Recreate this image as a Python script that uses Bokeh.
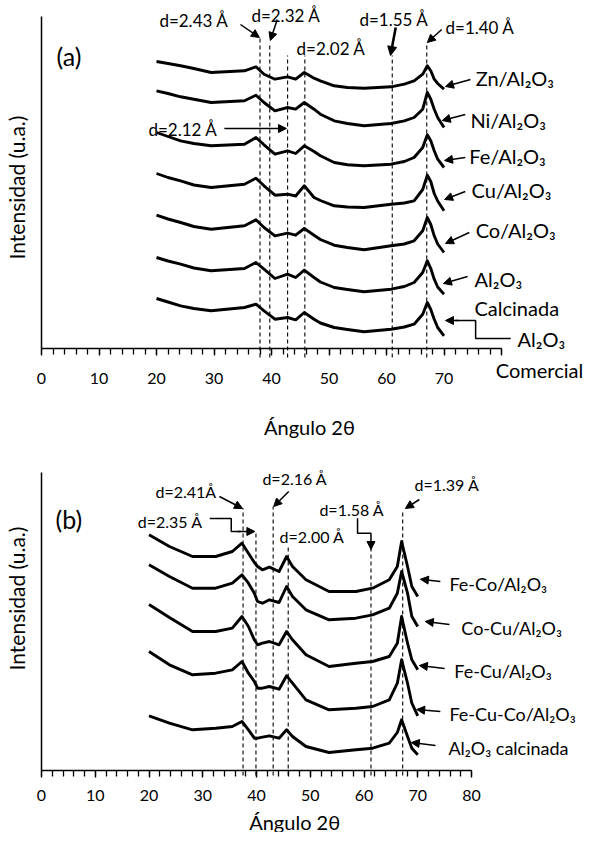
from math import pi
from bokeh.plotting import figure
from bokeh.layouts import column
from bokeh.models import Range1d, FixedTicker, Label, Arrow, NormalHead
from bokeh.embed import file_html
from bokeh.resources import INLINE

FONT = "Lato"

# ---------------- data: panel (a) ----------------
angle_a = [20, 22, 24.2, 26.5, 29.5, 35.3, 37.3, 38.7, 40.6, 42.8, 44.2, 45.7, 47.4,
           48.5, 50.9, 53.2, 56.1, 60.8, 63.1, 64.8, 66.3, 67.1, 67.7, 68.3, 68.9, 70]
zn_al2o3 = [287, 285, 282.7, 280, 276, 277.7, 281.7, 274.3, 269.3, 271.7, 269.3, 276,
            270.3, 267.7, 262.7, 261, 260.3, 261.7, 264.3, 267.7, 274.3, 282.7, 277.7,
            269.3, 265, 259.3]
ni_al2o3 = [257.7, 255, 251.7, 249.3, 246, 247.7, 253.3, 246, 237.7, 241, 239.3, 246,
            239.3, 234.3, 227.7, 225, 222.7, 225, 227.7, 231, 239.3, 256, 249.3, 239.3,
            231, 221]
fe_al2o3 = [216, 212, 207.7, 205, 202.7, 204.3, 211, 203.7, 194.3, 197.7, 195, 202.7,
            197, 192.7, 186, 183.7, 182.7, 184.3, 187, 191, 201, 213.7, 207.7, 197.7,
            189.3, 181]
cu_al2o3 = [175, 171, 167.7, 163.5, 161, 164.3, 170.3, 162.7, 153.3, 154.3, 152.5, 162.7,
            151, 148, 142.7, 141.5, 141, 144.3, 145.5, 147.7, 159, 173.3, 167, 155,
            147.5, 137.7]
co_al2o3 = [133.3, 129.5, 126, 122, 119.3, 122.7, 128.7, 121, 112.7, 115.3, 113.3, 120,
            113.3, 109, 103.3, 101, 98.7, 102.7, 104.5, 107.7, 117.7, 131, 124, 112.7,
            104.5, 96]
al2o3_calc_a = [91, 87.5, 84.3, 80.5, 77.7, 80, 86, 79.3, 70, 74.3, 71, 78.3, 71, 66.5,
                61, 59, 56.7, 59.3, 62, 66, 76, 87.7, 80, 69.3, 61.5, 54.3]
al2o3_com = [50, 46.5, 42.7, 40, 37.7, 41, 44.3, 37.7, 29.3, 31, 28.7, 36, 29.3, 25.5,
             21, 19, 16.7, 19.3, 21.5, 24.3, 34.3, 46, 39, 29.3, 21, 12.7]
series_a = [zn_al2o3, ni_al2o3, fe_al2o3, cu_al2o3, co_al2o3, al2o3_calc_a, al2o3_com]
ref_lines_a = [38.0, 39.7, 42.8, 45.8, 61.0, 67.0]
ref_tops_a = [313, 306, 293, 293, 293, 306]

# ---------------- data: panel (b) ----------------
angle_b = [20, 23.8, 28.1, 32.4, 35.5, 37.3, 38.5, 39.6, 40.2, 41.1, 42.4, 44.2,
           45.6, 46.7, 49.2, 53.5, 58.5, 61.6, 64.7, 66.2, 67.0, 68.1, 68.9, 70]
feco = [235.7, 224, 214, 214, 219, 227.3, 217.3, 208, 204, 200.7, 203.3, 199,
        214, 204, 190.7, 179, 179, 182.3, 190.7, 204, 229, 204, 184, 174]
cocu = [205.7, 194, 182.3, 182.3, 187.3, 195.7, 187.3, 177.3, 169, 167.3, 170.7, 168,
        184, 174, 160.7, 150.7, 152.3, 155.7, 162.3, 177.3, 199, 177.3, 154, 144]
fecu = [166, 153, 139, 139, 142.3, 154, 144, 130.7, 125.7, 127.3, 129, 125.7,
        139, 130.7, 115.7, 104, 107.3, 109, 114, 127.3, 154, 127.3, 110.7, 100.7]
fecuco = [119, 105.7, 95.7, 97.3, 100.7, 109, 97.3, 89, 82.3, 82.3, 84, 81.3,
          94.7, 87.3, 70.7, 60.7, 62.3, 64, 70.7, 87.3, 110.7, 87.3, 67.3, 54.7]
al2o3_calc_b = [54.7, 47.3, 40.7, 42.3, 44, 49, 40.7, 32.3, 32.3, 33.3, 34.7, 32.3,
                40.7, 34, 24, 18, 20.7, 22.3, 27.3, 38, 50.7, 34, 22.3, 15.7]
series_b = [feco, cocu, fecu, fecuco, al2o3_calc_b]
ref_lines_b = [37.5, 39.9, 43.1, 45.9, 61.3, 67.2]
ref_tops_b = [262.3, 237.3, 264, 225.7, 222.3, 260.7]

tick_values = [0, 10, 20, 30, 40, 50, 60, 70, 80]


def text(p, x, y, t, size, align="left", angle=0.0):
    p.add_layout(Label(x=x, y=y, text=t, text_font=FONT, text_font_size=size,
                       text_align=align, text_baseline="middle", angle=angle,
                       text_color="black"))


def arrow(p, x0, y0, x1, y1, w=1.5, size=8):
    p.add_layout(Arrow(end=NormalHead(size=size, fill_color="black", line_color="black",
                                      line_width=1),
                       x_start=x0, y_start=y0, x_end=x1, y_end=y1,
                       line_width=w, line_color="black"))


def make_fig(height, px_per_unit, y_lo, y_hi, axis_top, standoff, hide80):
    p = figure(width=584, height=height, output_backend="svg", toolbar_location=None,
               x_range=Range1d(-41 / px_per_unit, 543 / px_per_unit),
               y_range=Range1d(y_lo, y_hi),
               min_border=0, min_border_left=0, min_border_right=0, min_border_top=0,
               min_border_bottom=0)
    p.outline_line_color = None
    p.grid.visible = False
    p.background_fill_color = "white"
    xa = p.xaxis[0]
    xa.fixed_location = 0
    xa.ticker = FixedTicker(ticks=tick_values, minor_ticks=list(range(0, 81, 2)))
    xa.bounds = (0, 80)
    xa.axis_line_width = 1.5
    xa.axis_line_color = "black"
    xa.major_tick_line_width = 1.3
    xa.minor_tick_line_width = 1.3
    xa.major_tick_line_color = "black"
    xa.minor_tick_line_color = "black"
    xa.major_tick_in = 0
    xa.minor_tick_in = 0
    xa.major_tick_out = 7
    xa.minor_tick_out = 6
    xa.major_label_standoff = standoff
    xa.major_label_text_font = FONT
    xa.major_label_text_font_size = "16px"
    xa.major_label_text_color = "black"
    if hide80:
        xa.major_label_overrides = {80: ""}
    ya = p.yaxis[0]
    ya.fixed_location = 0
    ya.ticker = FixedTicker(ticks=[])
    ya.major_tick_out = 0
    ya.minor_tick_out = 0
    ya.major_label_text_font_size = "0px"
    ya.bounds = (0, axis_top)
    ya.axis_line_width = 1.5
    ya.axis_line_color = "black"
    return p


# ---------------- panel (a) ----------------
pa = make_fig(446, 5.75, -98, 348, 332, 17, True)
for s in series_a:
    pa.line(angle_a, s, line_width=2.9, line_color="black", line_join="round")
pa.segment(x0=ref_lines_a, y0=[-9] * len(ref_lines_a), x1=ref_lines_a, y1=ref_tops_a,
           line_dash="4 3", line_width=1.1, line_color="black")

text(pa, 2.6, 293, "(a)", "25px")
text(pa, 20.5, 328, "d=2.43 Å", "17px")
text(pa, 36.5, 333, "d=2.32 Å", "17px")
text(pa, 44.35, 300, "d=2.02 Å", "17px")
text(pa, 55.3, 329, "d=1.55 Å", "17px")
text(pa, 70.26, 321, "d=1.40 Å", "17px")
text(pa, 18.6, 219, "d=2.12 Å", "17px")
arrow(pa, 34.6, 324, 37.9, 311)
arrow(pa, 41.0, 329, 39.8, 308)
arrow(pa, 61.6, 321, 60.7, 293, w=2.6, size=9)
arrow(pa, 69.6, 319, 67.1, 306)
arrow(pa, 31.8, 220, 42.6, 220)

text(pa, 75.5, 271, "Zn/Al₂O₃", "20px")
arrow(pa, 74.6, 269, 70.26, 262)
text(pa, 74.6, 229, "Ni/Al₂O₃", "20px")
arrow(pa, 73.7, 234, 69.7, 228)
text(pa, 74.4, 193, "Fe/Al₂O₃", "20px")
arrow(pa, 73.7, 191, 70.1, 188)
text(pa, 74.8, 159, "Cu/Al₂O₃", "20px")
arrow(pa, 73.7, 157, 70.1, 149)
text(pa, 75.5, 119, "Co/Al₂O₃", "20px")
arrow(pa, 74.4, 116, 70.26, 105)
text(pa, 75.3, 70, "Al₂O₃", "20px")
arrow(pa, 74.1, 72, 69.9, 65)
text(pa, 75.3, 41, "Calcinada", "20px")
pa.line([81.6, 75.5, 75.5, 72.0], [10, 10, 28, 28], line_width=1.5, line_color="black")
arrow(pa, 72.5, 28, 70.26, 28)
text(pa, 82.8, 10, "Al₂O₃", "20px")
text(pa, 79.0, -21, "Comercial", "20px")

text(pa, -4.35, 161, "Intensidad (u.a.)", "21px", align="center", angle=pi / 2)
text(pa, 46.6, -78, "Ángulo 2θ", "20px", align="center")

# ---------------- panel (b) ----------------
pb = make_fig(386, 5.375, -62, 324, 298, 12, False)
for s in series_b:
    pb.line(angle_b, s, line_width=2.9, line_color="black", line_join="round")
pb.segment(x0=ref_lines_b, y0=[-5] * len(ref_lines_b), x1=ref_lines_b, y1=ref_tops_b,
           line_dash="4 3", line_width=1.1, line_color="black")

text(pb, 2.6, 252, "(b)", "25px")
text(pb, 21.2, 279, "d=2.41Å", "16px")
text(pb, 17.9, 249, "d=2.35 Å", "16px")
text(pb, 41.1, 292, "d=2.16 Å", "16px")
text(pb, 44.3, 234, "d=2.00 Å", "16px")
text(pb, 51.7, 261, "d=1.58 Å", "16px")
text(pb, 69.4, 286, "d=1.39 Å", "16px")
arrow(pb, 33.1, 274, 37.4, 262)
pb.line([31.3, 35.3, 35.3, 37.0], [252, 252, 239, 239], line_width=1.5, line_color="black")
arrow(pb, 36.5, 239, 39.7, 239)
arrow(pb, 46.0, 279, 43.2, 264)
pb.line([58.8, 58.8, 61.3, 61.3], [252.3, 237.3, 237.3, 226], line_width=1.5,
        line_color="black")
arrow(pb, 61.3, 228, 61.3, 221)
arrow(pb, 70.3, 271, 67.7, 262)

text(pb, 75.9, 187, "Fe-Co/Al₂O₃", "18px")
arrow(pb, 74.2, 189, 70.5, 191.3)
text(pb, 78.1, 143, "Co-Cu/Al₂O₃", "18px")
arrow(pb, 75.9, 146, 71.4, 149)
text(pb, 76.8, 100, "Fe-Cu/Al₂O₃", "18px")
arrow(pb, 75.0, 102, 70.3, 105)
text(pb, 75.9, 57, "Fe-Cu-Co/Al₂O₃", "18px")
arrow(pb, 74.2, 59, 69.8, 61)
text(pb, 75.7, 23, "Al₂O₃ calcinada", "18px")
arrow(pb, 73.3, 25, 68.8, 28)

text(pb, -4.65, 172, "Intensidad (u.a.)", "21px", align="center", angle=pi / 2)
text(pb, 47.1, -51, "Ángulo 2θ", "20px", align="center")

layout = column(pa, pb, spacing=0)
open("out.html", "w").write(file_html(layout, INLINE))
